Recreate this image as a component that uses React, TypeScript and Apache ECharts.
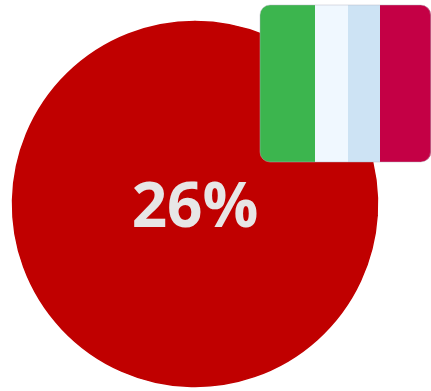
import React, { useEffect, useRef } from "react";
import * as echarts from "echarts";

// Share of the total shown in the centre; the remainder shares the same colour.
const sliceNames = ["Italia", "Altri"];
const sliceValues = [26, 74];
const sliceColor = "#C00000";

// Flag stripes, left to right: [start x, end x, colour]
const flagStripes: [number, number, string][] = [
  [260, 315, "#3CB54E"],
  [315, 348, "#F0F8FF"],
  [348, 380, "#CDE3F4"],
  [380, 431, "#C40045"],
];
const flagTop = 5;
const flagHeight = 157;
const flagRadius = 10;

export default function App() {
  const ref = useRef<HTMLDivElement>(null);

  useEffect(() => {
    document.body.style.margin = "0";
    const chart = echarts.init(ref.current!, undefined, { renderer: "svg" });
    const last = flagStripes.length - 1;
    chart.setOption({
      animation: false,
      backgroundColor: "#FFFFFF",
      series: [
        {
          type: "pie",
          center: [195, 204],
          radius: [0, 182.5],
          silent: true,
          label: { show: false },
          labelLine: { show: false },
          // A stroke in the fill colour closes the seam between the two slices.
          itemStyle: { color: sliceColor, borderColor: sliceColor, borderWidth: 1.5 },
          data: sliceNames.map((name, i) => ({ name, value: sliceValues[i] })),
        },
      ],
      graphic: [
        {
          type: "text",
          x: 195,
          y: 203,
          z: 10,
          style: {
            text: `${sliceValues[0]}%`,
            fill: "#E7E6E6",
            font: "700 62px 'Open Sans'",
            textAlign: "center",
            textVerticalAlign: "middle",
          },
        },
        ...flagStripes.map(([x0, x1, color], i) => ({
          type: "rect",
          z: 20,
          shape: {
            x: x0,
            y: flagTop,
            width: x1 - x0,
            height: flagHeight,
            r:
              i === 0
                ? [flagRadius, 0, 0, flagRadius]
                : i === last
                ? [0, flagRadius, flagRadius, 0]
                : 0,
          },
          style: { fill: color },
        })),
        {
          type: "rect",
          z: 21,
          shape: {
            x: flagStripes[0][0],
            y: flagTop,
            width: flagStripes[last][1] - flagStripes[0][0] - 0.5,
            height: flagHeight,
            r: flagRadius,
          },
          style: { fill: "none", stroke: "#B4B4BE", lineWidth: 1, opacity: 0.45 },
        },
      ],
    });
    return () => chart.dispose();
  }, []);

  return <div ref={ref} style={{ width: 431, height: 391 }} />;
}
